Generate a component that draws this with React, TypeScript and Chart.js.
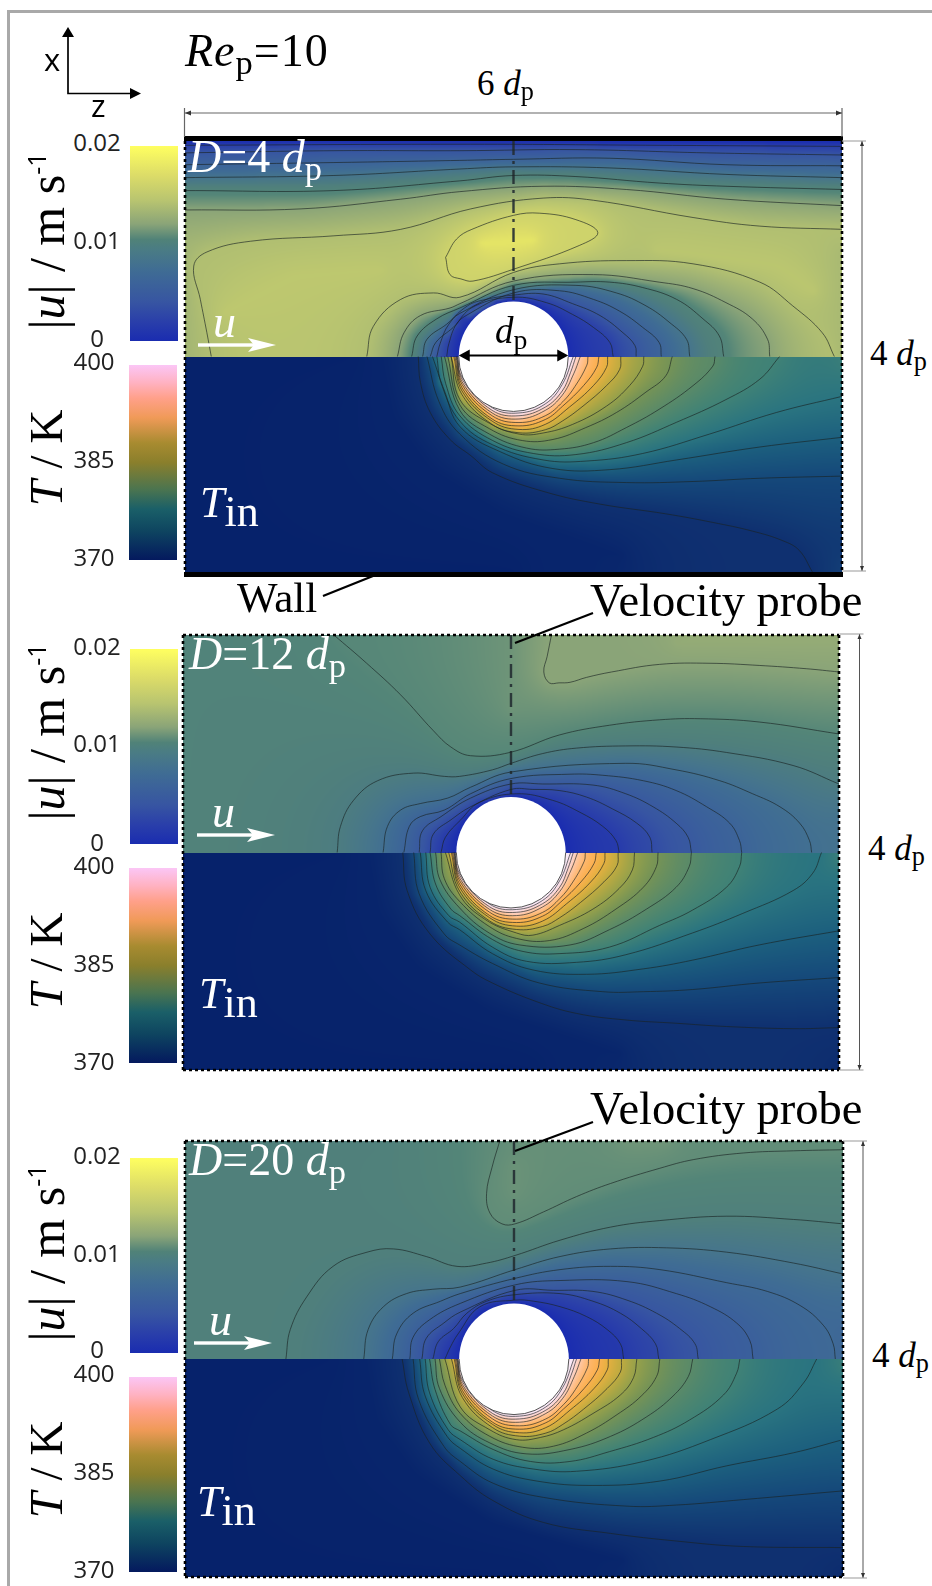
import React, { useEffect, useRef } from "react";
import { Chart, registerables } from "chart.js";
Chart.register(...registerables);

// All contour data. Coordinates: z, x in hundredths of a particle diameter (flat pairs).
const uStops: [number, string][] = [[0, "#1a2cb0"], [0.002, "#2a3faa"], [0.004, "#3755a2"], [0.0072, "#3f6c94"], [0.0081, "#46758c"], [0.0094, "#4f7f7c"], [0.0104, "#538578"], [0.012, "#8aa478"], [0.0144, "#b8c470"], [0.017, "#dcdc68"], [0.02, "#ffff60"]];
const tFieldStops: [number, string][] = [[370, "#05206a"], [371.5, "#0f3070"], [373, "#15487a"], [374.5, "#1c5f7e"], [376, "#2a7480"], [377.5, "#408276"], [379, "#5a8a68"], [380.5, "#759356"], [382, "#97a14a"], [383.5, "#c0ab40"], [385, "#e5b040"], [386.5, "#fbb050"], [388, "#ffb870"], [389.5, "#ffc8a8"], [391, "#fbd6d6"], [392.5, "#f8e4f2"], [394, "#fbeefb"], [400, "#ffffff"]];
const tBarStops: [number, string][] = [[370, "#04195e"], [374.5, "#0e4560"], [377.8, "#1a5f68"], [380.8, "#4a7450"], [385, "#8a7f2c"], [388, "#a88b30"], [391.9, "#f09a58"], [394.9, "#ffa08a"], [397.3, "#ffb2c2"], [400, "#fbc6f6"]];
const uBarStops: [number, string][] = [[0, "#1a2cb0"], [0.002, "#2a3faa"], [0.004, "#3755a2"], [0.0072, "#3f6c94"], [0.0094, "#4a7c84"], [0.0104, "#508278"], [0.012, "#8aa478"], [0.0144, "#b8c470"], [0.017, "#dcdc68"], [0.02, "#ffff60"]];
const uTicks = ["0.02", "0.01", "0"];
const tTicks = ["400", "385", "370"];
const probe = [300, 200, 300, 51];
const particleDiameter = [250, 350];

type L = [number, number[]];

const uLinesD4: L[] = [
  [0.002, [0, 196, 261, 197, 433, 196, 600, 195]],
  [0.004, [0, 189, 136, 191, 251, 191, 357, 192, 476, 189, 600, 187]],
  [0.006, [0, 178, 136, 180, 251, 182, 300, 183, 388, 184, 494, 178, 600, 177]],
  [0.008, [0, 166, 136, 168, 251, 174, 300, 176, 388, 175, 494, 169, 600, 166]],
  [0.01, [0, 154, 136, 154, 251, 163, 300, 168, 357, 167, 433, 161, 494, 158, 600, 155]],
  [0.012, [0, 136, 106, 137, 197, 146, 251, 153, 327, 158, 403, 155, 494, 146, 600, 140]],
  [0.014, [24, 0, 20, 22, 14, 53, 8, 84, 20, 97, 60, 107, 136, 112, 197, 118, 261, 137, 327, 147, 373, 145, 464, 129, 525, 121, 600, 118]],
  [0.016, [238, 92, 248, 109, 262, 118, 300, 131, 324, 133, 357, 127, 377, 115, 360, 103, 300, 81, 263, 70, 252, 72, 242, 76, 238, 92]],
  [0.014, [166, 0, 172, 28, 197, 53, 227, 59, 251, 55, 300, 78, 342, 86, 403, 89, 464, 86, 525, 69, 555, 47, 582, 22, 593, 0]],
  [0.012, [194, 0, 200, 22, 215, 38, 242, 45, 251, 49, 300, 70, 373, 76, 433, 69, 464, 63, 494, 50, 518, 35, 532, 16, 534, 0]],
  [0.01, [207, 0, 212, 19, 230, 35, 251, 45, 300, 66, 357, 69, 388, 69, 418, 64, 449, 53, 473, 35, 488, 19, 492, 0]],
  [0.008, [217, 0, 221, 16, 239, 30, 251, 40, 300, 62, 357, 66, 394, 59, 421, 47, 442, 32, 458, 16, 461, 0]],
  [0.006, [224, 0, 229, 13, 245, 27, 255, 37, 300, 59, 342, 61, 373, 53, 397, 42, 418, 27, 433, 13, 435, 0]],
  [0.004, [230, 0, 233, 12, 241, 30, 258, 47, 275, 53, 300, 57, 327, 58, 354, 49, 379, 38, 400, 22, 411, 10, 412, 0]],
  [0.002, [239, 0, 241, 12, 248, 30, 265, 47, 300, 55, 330, 50, 354, 39, 373, 27, 388, 13, 391, 0]],
];
const uAnchorsD4: L[] = [
  [0, [0, 200, 600, 200]],
  [0.0148, [35, 40, 100, 75, 180, 80]],
  [0.0146, [430, 100, 540, 85, 575, 60]],
  [0.0178, [270, 105, 320, 108]],
  [0.0133, [0, 0, 0, 100]],
  [0.0136, [600, 0, 600, 100]],
];

const uLinesD12: L[] = [
  [0.012, [337, 200, 333, 180, 330, 166, 335, 156, 344, 156, 354, 156.5, 369, 161, 392, 166, 436, 173, 482, 174, 527, 172, 570, 169, 600, 166]],
  [0.0105, [138, 200, 168, 174, 199, 145, 229, 112, 245, 97, 263, 89, 299, 92, 344, 108, 390, 117, 436, 122, 473, 123, 527, 120, 600, 109]],
  [0.009, [141, 0, 144, 24, 156, 48, 178, 66, 211, 73, 239, 70, 253, 70, 283, 76, 300, 82, 329, 91, 360, 96, 405, 98, 451, 97, 497, 92, 558, 80, 600, 63]],
  [0.0075, [183, 0, 187, 24, 199, 39, 217, 45, 242, 50, 263, 60, 300, 74, 405, 82, 451, 76, 491, 66, 521, 54, 546, 42, 564, 27, 573, 11, 575, 0]],
  [0.006, [202, 0, 207, 24, 217, 33, 239, 39, 263, 54, 300, 68, 354, 72, 384, 71, 421, 66, 451, 57, 479, 42, 500, 27, 509, 11, 511, 0]],
  [0.0045, [216, 0, 219, 20, 236, 33, 263, 50, 300, 63, 329, 63, 375, 62, 405, 54, 430, 42, 451, 27, 462, 14, 465, 0]],
  [0.003, [226, 0, 229, 17, 245, 30, 263, 42, 300, 58, 320, 58, 344, 57, 369, 51, 393, 40, 415, 27, 427, 14, 429, 0]],
  [0.0015, [236, 0, 240, 14, 254, 30, 271, 46, 305, 54, 338, 48, 363, 37, 384, 24, 396, 11, 399, 0]],
];
const uAnchorsD12: L[] = [
  [0.01, [0, 0, 0, 200]],
  [0.0125, [450, 192, 600, 192]],
  [0.0078, [600, 0, 600, 30]],
  [0.0112, [300, 130, 300, 200]],
];

const uLinesD20: L[] = [
  [0.0108, [287, 200, 280, 176, 275, 152, 278, 134, 289, 124, 301, 124, 327, 135, 357, 149, 388, 161, 433, 175, 464, 183, 509, 189, 555, 191, 600, 192]],
  [0.0095, [92, 0, 96, 27, 111, 57, 135, 85, 166, 98, 190, 101, 220, 94, 248, 85, 275, 88, 301, 95, 342, 109, 388, 121, 433, 127, 494, 131, 555, 128, 600, 124]],
  [0.0081, [163, 0, 167, 27, 181, 48, 202, 60, 226, 64, 251, 66, 301, 82, 342, 94, 388, 101, 439, 102, 494, 98, 555, 88, 600, 78]],
  [0.00675, [189, 0, 193, 23, 208, 42, 233, 53, 251, 60, 301, 74, 342, 82, 388, 85, 433, 82, 494, 70, 531, 62, 561, 49, 582, 31, 591, 14, 593, 0]],
  [0.0054, [205, 0, 208, 20, 223, 36, 251, 51, 301, 68, 342, 72, 403, 71, 448, 60, 479, 48, 503, 33, 515, 17, 518, 0]],
  [0.00405, [216, 0, 220, 19, 236, 33, 251, 43, 301, 63, 336, 63, 372, 62, 403, 54, 430, 42, 451, 28, 465, 14, 468, 0]],
  [0.0027, [226, 0, 231, 16, 245, 28, 257, 42, 275, 53, 301, 59, 342, 60, 372, 53, 397, 42, 416, 28, 429, 14, 432, 0]],
  [0.00135, [237, 0, 242, 11, 249, 23, 269, 48, 301, 54, 318, 53, 342, 48, 366, 39, 385, 27, 397, 14, 400, 0]],
];
const uAnchorsD20: L[] = [
  [0.0096, [0, 0, 0, 200, 180, 200]],
  [0.0112, [400, 198, 440, 198]],
  [0.0111, [300, 150, 300, 180]],
  [0.0066, [600, 0, 600, 30]],
];

const tLinesNearParticle: L[] = [
  [383.5, [243, 0, 253, -35.5, 280.5, -63, 305, -70.8, 329, -68, 344.5, -60, 363.5, -46, 385, -27, 397, -12, 398, 0]],
  [385, [245.5, 0, 253, -32, 280.5, -60, 305, -67.7, 329, -63, 351, -47, 373, -27, 385, -10, 386, 0]],
  [386.5, [246.5, 0, 253, -29, 280.5, -58, 305, -64.4, 329, -58.5, 345, -46, 364, -27, 376, -10, 378, 0]],
  [388, [247.5, 0, 253, -26, 280.5, -55, 305, -61.3, 329, -55, 345, -42, 356, -28, 367, -8, 368, 0]],
  [389.5, [248, 0, 253, -23.5, 280.5, -52.4, 305, -58, 329, -50, 344.5, -36, 355, -16, 361, 0]],
  [391, [248.5, 0, 253, -21, 280.5, -50, 305, -55, 329, -47, 344.5, -32, 352, -15, 357, 0]],
  [392.5, [249, 0, 253, -19, 280.5, -47.5, 305, -52.4, 329, -44, 344.5, -26, 354.6, 0]],
];

const tLinesD4: L[] = [
  [371.5, [213, 0, 215, -24, 224, -52, 242, -77, 261, -92, 281, -108, 330, -126, 379, -137, 439, -146, 482, -154, 518, -162, 546, -171, 561, -180, 573, -200]],
  [373, [221, 0, 232, -42, 251, -72, 291, -100, 342, -113, 403, -117, 464, -116, 525, -113, 600, -111]],
  [374.5, [226, 0, 237, -32, 251, -65, 287, -88, 336, -104, 388, -105, 449, -96, 525, -84, 600, -75]],
  [376, [230, 0, 234, -25, 251, -60, 281, -82, 327, -96, 367, -97, 418, -90, 479, -72, 540, -52, 600, -37]],
  [377.5, [234, 0, 238, -25, 251, -55, 281, -78, 318, -90, 357, -91, 403, -80, 449, -61, 494, -40, 525, -21, 543, 0]],
  [379, [237, 0, 251, -50, 278, -72, 312, -85, 342, -86, 373, -80, 403, -66, 433, -49, 464, -27, 482, -9, 484, 0]],
  [380.5, [240, 0, 251, -45, 278, -67, 308, -78, 336, -77, 366, -66, 394, -52, 421, -33, 439, -18, 445, 0]],
  [382, [243, 0, 251, -40, 278, -62, 305, -72, 327, -71, 354, -63, 385, -46, 406, -27, 418, -9, 419, 0]],
];
const tLinesD12: L[] = [
  [371.5, [201, 0, 205, -35, 226, -75, 263, -108, 283, -120, 323, -137, 360, -148, 405, -154, 451, -157, 497, -160, 558, -162, 600, -161]],
  [373, [211, 0, 216, -38, 239, -75, 253, -85, 283, -102, 326, -120, 384, -128, 421, -128, 466, -126, 527, -120, 600, -115]],
  [374.5, [217, 0, 222, -35, 242, -64, 253, -71, 283, -93, 320, -108, 369, -112, 421, -107, 466, -99, 527, -85, 600, -72]],
  [376, [222, 0, 226, -32, 243, -58, 253, -64, 283, -87, 314, -100, 360, -101, 405, -94, 466, -74, 512, -56, 558, -35, 576, -19, 584, 0]],
  [377.5, [226, 0, 231, -29, 245, -52, 253, -58, 283, -80, 311, -91, 344, -93, 390, -87, 436, -67, 466, -53, 497, -32, 509, -13, 511, 0]],
  [379, [231, 0, 235, -25, 253, -51, 280, -74, 308, -85, 354, -85, 390, -71, 424, -52, 451, -32, 463, -13, 465, 0]],
  [380.5, [236, 0, 239, -24, 253, -45, 280, -68, 305, -79, 335, -81, 366, -70, 396, -52, 421, -32, 433, -13, 434.5, 0]],
  [382, [240, 0, 253, -39, 277, -62, 305, -74, 320, -76, 344.5, -67, 375, -52, 399, -33, 411, -16, 413, 0]],
];
const tLinesD20: L[] = [
  [371.5, [198, 0, 204, -31, 223, -77, 251, -107, 281, -130, 327, -150, 388, -160, 448, -167, 509, -172, 600, -173]],
  [373, [208, 0, 213, -37, 236, -80, 251, -94, 281, -114, 327, -127, 403, -135, 448, -134, 509, -129, 600, -121]],
  [374.5, [214, 0, 219, -34, 239, -71, 251, -82, 281, -101, 321, -112, 372, -116, 433, -112, 494, -98, 555, -86, 600, -74]],
  [376, [219, 0, 223, -31, 240, -65, 251, -74, 281, -92, 318, -101, 357, -103, 418, -94, 479, -74, 540, -46, 564, -22, 576, 0]],
  [377.5, [223, 0, 228, -28, 242, -60, 251, -66, 281, -83, 315, -94, 351, -94, 387, -85, 427, -72, 460, -56, 491, -33, 503, -13, 506, 0]],
  [379, [228, 0, 232, -27, 251, -58, 278, -77, 311, -87, 351, -83, 388, -71, 421, -53, 445, -34, 459, -16, 463, 0]],
  [380.5, [232, 0, 237, -24, 251, -50, 278, -71, 308, -81, 336, -80, 366, -68, 394, -51, 416, -34, 430, -16, 433, 0]],
  [382, [237, 0, 251, -44, 278, -65, 302, -74, 324, -72, 345, -65, 372, -50, 397, -33, 409, -17, 412, 0]],
];
const tAnchorsD4: L[] = [
  [370.2, [0, 0, 150, 0]],
  [370.2, [0, -200, 0, 0]],
  [370.2, [0, -200, 300, -200]],
  [370.5, [180, 0, 190, -55, 225, -105, 290, -145, 400, -185]],
  [372.3, [600, -200, 600, -190]],
  [377, [600, 0, 600, -10]],
];
const tAnchorsD12: L[] = [
  [370.2, [0, 0, 140, 0]],
  [370.2, [0, -200, 0, 0]],
  [370.2, [0, -200, 320, -200]],
  [370.5, [170, 0, 180, -55, 215, -105, 280, -145, 400, -185]],
  [371, [600, -200, 600, -195]],
  [377, [600, 0, 600, -10]],
];
const tAnchorsD20: L[] = [
  [370.2, [0, 0, 130, 0]],
  [370.2, [0, -200, 0, 0]],
  [370.2, [0, -200, 320, -200]],
  [370.5, [165, 0, 175, -55, 210, -105, 280, -150, 400, -185]],
  [371, [600, -200, 600, -195]],
  [377, [600, 0, 600, -10]],
];

const SPHERE_Z = 50, SPHERE_X = 51;
const arc = (sign: number) => {
  const a: number[] = [];
  for (let i = 0; i <= 36; i++) {
    const t = (Math.PI * i) / 36;
    a.push(300 - SPHERE_Z * Math.cos(t), sign * SPHERE_X * Math.sin(t));
  }
  return a;
};

const hex = (h: string) => [parseInt(h.slice(1, 3), 16), parseInt(h.slice(3, 5), 16), parseInt(h.slice(5, 7), 16)];
function colorAt(stops: [number, string][], v: number) {
  if (v <= stops[0][0]) return hex(stops[0][1]);
  for (let i = 1; i < stops.length; i++) {
    if (v <= stops[i][0]) {
      const f = (v - stops[i - 1][0]) / (stops[i][0] - stops[i - 1][0]);
      const a = hex(stops[i - 1][1]), b = hex(stops[i][1]);
      return [a[0] + (b[0] - a[0]) * f, a[1] + (b[1] - a[1]) * f, a[2] + (b[2] - a[2]) * f];
    }
  }
  return hex(stops[stops.length - 1][1]);
}

// Fills the space between the level lines: every level line stays fixed and the rest relaxes smoothly between them.
function fieldImage(lines: L[], stops: [number, string][], xTop: number, xBot: number) {
  const sizes = [[82, 27], [164, 54], [329, 109], [658, 218]];
  const iters = [400, 150, 60, 30];
  let mean = 0;
  lines.forEach((l) => (mean += l[0] / lines.length));
  let prev: Float32Array | null = null;
  let pc = 0, pr = 0;
  let cols = 0, rows = 0;
  let val = new Float32Array(1);
  sizes.forEach(([c, r], lev) => {
    cols = c; rows = r;
    val = new Float32Array(c * r);
    const fixed = new Uint8Array(c * r);
    if (prev) {
      for (let j = 0; j < r; j++) {
        const pj = Math.min(pr - 1, Math.floor((j / r) * pr));
        for (let i = 0; i < c; i++) val[j * c + i] = prev[pj * pc + Math.min(pc - 1, Math.floor((i / c) * pc))];
      }
    } else val.fill(mean);
    const cz = 600 / c, cx = (xTop - xBot) / r;
    for (const [level, p] of lines) {
      for (let k = 0; k + 3 < p.length; k += 2) {
        const dz = p[k + 2] - p[k], dx = p[k + 3] - p[k + 1];
        const n = Math.max(1, Math.ceil(Math.hypot(dz / cz, dx / cx) * 2));
        for (let s = 0; s <= n; s++) {
          const i = Math.min(c - 1, Math.max(0, Math.floor((p[k] + (dz * s) / n) / cz)));
          const j = Math.min(r - 1, Math.max(0, Math.floor((xTop - (p[k + 1] + (dx * s) / n)) / cx)));
          fixed[j * c + i] = 1;
          val[j * c + i] = level;
        }
      }
    }
    const w = lev < 2 ? 1.85 : 1.6;
    for (let it = 0; it < iters[lev]; it++) {
      for (let j = 0; j < r; j++) {
        const up = j > 0 ? -c : 0, dn = j < r - 1 ? c : 0;
        for (let i = 0; i < c; i++) {
          const o = j * c + i;
          if (fixed[o]) continue;
          const lf = i > 0 ? -1 : 0, rt = i < c - 1 ? 1 : 0;
          const avg = (val[o + lf] + val[o + rt] + val[o + up] + val[o + dn]) / 4;
          val[o] += w * (avg - val[o]);
        }
      }
    }
    prev = val; pc = c; pr = r;
  });
  // soften the creases along the level lines
  for (let pass = 0; pass < 3; pass++) {
    const t = val.slice();
    for (let j = 0; j < rows; j++) {
      for (let i = 0; i < cols; i++) {
        const a = Math.max(0, i - 1), b = Math.min(cols - 1, i + 1), u = Math.max(0, j - 1), d = Math.min(rows - 1, j + 1);
        val[j * cols + i] = (t[u * cols + a] + t[u * cols + i] + t[u * cols + b] + t[j * cols + a] + t[j * cols + i] + t[j * cols + b] + t[d * cols + a] + t[d * cols + i] + t[d * cols + b]) / 9;
      }
    }
  }
  const canvas = document.createElement("canvas");
  canvas.width = cols; canvas.height = rows;
  const g = canvas.getContext("2d")!;
  const img = g.createImageData(cols, rows);
  for (let o = 0; o < cols * rows; o++) {
    const rgb = colorAt(stops, val[o]);
    img.data[o * 4] = rgb[0]; img.data[o * 4 + 1] = rgb[1]; img.data[o * 4 + 2] = rgb[2]; img.data[o * 4 + 3] = 255;
  }
  g.putImageData(img, 0, 0);
  return canvas;
}

const pairs = (a: number[]) => {
  const r: { x: number; y: number }[] = [];
  for (let i = 0; i + 1 < a.length; i += 2) r.push({ x: a[i], y: a[i + 1] });
  return r;
};

type PanelCfg = {
  L: number; T: number; W: number; H: number;
  uLines: L[]; uAnchors: L[]; tLines: L[]; tAnchors: L[]; walls: boolean; arrow: boolean;
};
const PAD = 8;
const panels: PanelCfg[] = [
  { L: 185, T: 141, W: 657, H: 431, uLines: uLinesD4, uAnchors: uAnchorsD4, tLines: [...tLinesD4, ...tLinesNearParticle], tAnchors: tAnchorsD4, walls: true, arrow: true },
  { L: 183, T: 635, W: 656, H: 435, uLines: uLinesD12, uAnchors: uAnchorsD12, tLines: [...tLinesD12, ...tLinesNearParticle], tAnchors: tAnchorsD12, walls: false, arrow: false },
  { L: 185, T: 1141, W: 658, H: 436, uLines: uLinesD20, uAnchors: uAnchorsD20, tLines: [...tLinesD20, ...tLinesNearParticle], tAnchors: tAnchorsD20, walls: false, arrow: false },
];

function Panel({ cfg }: { cfg: PanelCfg }) {
  const ref = useRef<HTMLCanvasElement>(null);
  useEffect(() => {
    const upper = fieldImage([...cfg.uAnchors, ...cfg.uLines, [0, arc(1)]], uStops, 200, 0);
    const lower = fieldImage([...cfg.tAnchors, ...cfg.tLines, [394, arc(-1)]], tFieldStops, 0, -200);
    const plugin = {
      id: "field",
      beforeDatasetsDraw(ch: any) {
        const { ctx, chartArea: a, scales } = ch;
        const mid = scales.y.getPixelForValue(0);
        ctx.save();
        ctx.imageSmoothingEnabled = true;
        ctx.imageSmoothingQuality = "high";
        ctx.drawImage(upper, a.left, a.top, a.width, mid - a.top);
        ctx.drawImage(lower, a.left, mid, a.width, a.bottom - mid);
        ctx.restore();
      },
      afterDatasetsDraw(ch: any) {
        const { ctx, chartArea: a, scales } = ch;
        const cx = scales.x.getPixelForValue(300), cy = scales.y.getPixelForValue(0);
        const rx = scales.x.getPixelForValue(300 + SPHERE_Z) - cx, ry = cy - scales.y.getPixelForValue(SPHERE_X);
        ctx.save();
        ctx.fillStyle = "#fff";
        ctx.beginPath(); ctx.ellipse(cx, cy, rx, ry, 0, 0, Math.PI * 2); ctx.fill();
        ctx.strokeStyle = "#444"; ctx.lineWidth = 0.9;
        ctx.beginPath(); ctx.ellipse(cx, cy, rx, ry, 0, 0, Math.PI); ctx.stroke();
        ctx.strokeStyle = "#000"; ctx.lineWidth = 2.6; ctx.setLineDash([3, 3]);
        ctx.beginPath();
        ctx.moveTo(a.left, a.top); ctx.lineTo(a.left, a.bottom);
        ctx.moveTo(a.right, a.top); ctx.lineTo(a.right, a.bottom);
        if (!cfg.walls) {
          ctx.moveTo(a.left, a.top); ctx.lineTo(a.right, a.top);
          ctx.moveTo(a.left, a.bottom); ctx.lineTo(a.right, a.bottom);
        }
        ctx.stroke();
        ctx.setLineDash([]);
        if (cfg.walls) {
          ctx.fillStyle = "#000";
          ctx.fillRect(a.left - 1, a.top - 5, a.width + 2, 5);
          ctx.fillRect(a.left - 1, a.bottom, a.width + 2, 5);
        }
        if (cfg.arrow) {
          const x0 = scales.x.getPixelForValue(particleDiameter[0]), x1 = scales.x.getPixelForValue(particleDiameter[1]);
          ctx.strokeStyle = "#000"; ctx.fillStyle = "#000"; ctx.lineWidth = 2;
          ctx.beginPath(); ctx.moveTo(x0 + 6, cy - 1); ctx.lineTo(x1 - 6, cy - 1); ctx.stroke();
          for (const [tip, d] of [[x0, 1], [x1, -1]]) {
            ctx.beginPath(); ctx.moveTo(tip, cy - 1); ctx.lineTo(tip + d * 11, cy - 7); ctx.lineTo(tip + d * 11, cy + 5); ctx.closePath(); ctx.fill();
          }
        }
        ctx.restore();
      },
    };
    const lineDs = (l: L) => ({
      data: pairs(l[1]), showLine: true, pointRadius: 0, borderColor: "rgba(25,35,35,0.85)", borderWidth: 0.75, tension: 0.4, fill: false,
    });
    const chart = new Chart(ref.current!, {
      type: "scatter",
      data: {
        datasets: [
          ...cfg.uLines.map(lineDs),
          ...cfg.tLines.map(lineDs),
          { data: pairs(probe), showLine: true, pointRadius: 0, borderColor: "rgba(35,45,50,0.9)", borderWidth: 2.4, borderDash: [14, 6, 3, 6], tension: 0, fill: false },
        ],
      },
      options: {
        animation: false, responsive: false,
        layout: { padding: PAD },
        scales: { x: { type: "linear", min: 0, max: 600, display: false }, y: { type: "linear", min: -200, max: 200, display: false } },
        plugins: { legend: { display: false }, tooltip: { enabled: false } },
      } as any,
      plugins: [plugin as any],
    });
    return () => chart.destroy();
  }, [cfg]);
  return <canvas ref={ref} width={cfg.W + PAD * 2} height={cfg.H + PAD * 2} style={{ position: "absolute", left: cfg.L - PAD, top: cfg.T - PAD, width: cfg.W + PAD * 2, height: cfg.H + PAD * 2 }} />;
}

const SERIF = "'Liberation Serif', serif";
const SANS = "'Open Sans', sans-serif";
function Txt({ x, y, size, color = "#000", font = SERIF, spacing = 0, children }: any) {
  return <div style={{ position: "absolute", left: x, top: y - size * 0.8375, fontSize: size, lineHeight: 1, color, fontFamily: font, whiteSpace: "nowrap", letterSpacing: spacing }}>{children}</div>;
}
const Sub = ({ children }: any) => <span style={{ fontSize: "0.75em", position: "relative", top: "0.22em", fontStyle: "normal" }}>{children}</span>;
function Rot({ cx, cy, size, children }: any) {
  return <div style={{ position: "absolute", left: cx, top: cy, transform: "translate(-50%,-50%) rotate(-90deg)", fontSize: size, lineHeight: 1, fontFamily: SERIF, whiteSpace: "nowrap", color: "#000" }}>{children}</div>;
}
function Tick({ x, cy, children }: any) {
  return <div style={{ position: "absolute", left: x, top: cy - 12, width: 48, fontSize: 24, lineHeight: "24px", textAlign: "center", fontFamily: SANS, color: "#222" }}>{children}</div>;
}
const grad = (stops: [number, string][]) => {
  const a = stops[0][0], b = stops[stops.length - 1][0];
  return `linear-gradient(to top, ${stops.map(([v, c]) => `${c} ${((v - a) / (b - a)) * 100}%`).join(", ")})`;
};

const barRows = [
  { u: [146, 341], t: [364.5, 560], ut: [142, 240, 338], tt: [361, 459, 557], ul: 241, tl: 458 },
  { u: [649, 844], t: [868, 1063], ut: [646, 743, 842], tt: [865, 963, 1061], ul: 732, tl: 961 },
  { u: [1158, 1353], t: [1377, 1572], ut: [1155, 1253, 1349], tt: [1373, 1471, 1569], ul: 1253, tl: 1470 },
];
const labels = [
  { D: "D=4 ", dx: 188, dy: 173, ux: 213, uy: 338, ax: 198, ay: 345, tx: 200, ty: 518 },
  { D: "D=12 ", dx: 189, dy: 670, ux: 212, uy: 828, ax: 197, ay: 835, tx: 199, ty: 1009 },
  { D: "D=20 ", dx: 189, dy: 1176, ux: 209, uy: 1336, ax: 194, ay: 1343, tx: 197, ty: 1517 },
];

function WhiteArrow({ x, y }: { x: number; y: number }) {
  return <g fill="#fff"><rect x={x} y={y - 1.7} width={56} height={3.4} /><polygon points={`${x + 50},${y - 7} ${x + 78},${y} ${x + 50},${y + 7} ${x + 56},${y}`} /></g>;
}
function Dim({ x, y0, y1 }: { x: number; y0: number; y1: number }) {
  return <g stroke="#555" strokeWidth={1} fill="#333">
    <line x1={x} x2={x} y1={y0} y2={y1} />
    <line x1={x - 20} x2={x + 4} y1={y0} y2={y0} stroke="#aaa" strokeWidth={1.2} />
    <line x1={x - 20} x2={x + 4} y1={y1} y2={y1} stroke="#aaa" strokeWidth={1.2} />
    <polygon points={`${x},${y0} ${x - 2},${y0 + 5} ${x + 2},${y0 + 5}`} stroke="none" />
    <polygon points={`${x},${y1} ${x - 2},${y1 - 5} ${x + 2},${y1 - 5}`} stroke="none" />
  </g>;
}

export default function App() {
  return (
    <div style={{ position: "absolute", left: 0, top: 0, width: 932, height: 1586, overflow: "hidden", background: "#fff" }}>
      <div style={{ position: "absolute", left: 7, top: 10, width: 925, height: 2.5, background: "#a9a9a9" }} />
      <div style={{ position: "absolute", left: 7, top: 10, width: 2.5, height: 1576, background: "#a9a9a9" }} />
      {panels.map((p, i) => <Panel key={i} cfg={p} />)}
      {barRows.map((r, i) => (
        <React.Fragment key={i}>
          <div style={{ position: "absolute", left: 130, top: r.u[0], width: 47.5, height: r.u[1] - r.u[0], background: grad(uBarStops) }} />
          <div style={{ position: "absolute", left: 129, top: r.t[0], width: 47.5, height: r.t[1] - r.t[0], background: grad(tBarStops) }} />
          {uTicks.map((t, k) => <Tick key={t} x={73} cy={r.ut[k]}>{t}</Tick>)}
          {tTicks.map((t, k) => <Tick key={t} x={70} cy={r.tt[k]}>{t}</Tick>)}
          <Rot cx={47} cy={r.ul} size={50}>|<i>u</i>| / m s<sup style={{ fontSize: "0.5em", fontFamily: SANS, lineHeight: 0 }}>-1</sup></Rot>
          <Rot cx={46} cy={r.tl} size={47}><i>T</i> / K</Rot>
        </React.Fragment>
      ))}
      {labels.map((l, i) => (
        <React.Fragment key={i}>
          <Txt x={l.dx} y={l.dy} size={46} color="#fff"><i>D</i>={l.D.slice(2)}<i>d</i><Sub>p</Sub></Txt>
          <Txt x={l.ux} y={l.uy} size={46} color="#fff"><i>u</i></Txt>
          <Txt x={l.tx} y={l.ty} size={44} color="#fff"><i>T</i><span style={{ position: "relative", top: 9 }}>in</span></Txt>
        </React.Fragment>
      ))}
      <Txt x={185} y={67} size={46} spacing={1}><i>Re</i><Sub>p</Sub>=10</Txt>
      <Txt x={477} y={95} size={35}>6 <i>d</i><Sub>p</Sub></Txt>
      <Txt x={495} y={343} size={37}><i>d</i><Sub>p</Sub></Txt>
      <Txt x={237} y={612} size={43}>Wall</Txt>
      <Txt x={590} y={617} size={46.5}>Velocity probe</Txt>
      <Txt x={590} y={1125} size={46.5}>Velocity probe</Txt>
      <Txt x={870} y={365} size={35}>4 <i>d</i><Sub>p</Sub></Txt>
      <Txt x={868} y={860} size={35}>4 <i>d</i><Sub>p</Sub></Txt>
      <Txt x={872} y={1367} size={35}>4 <i>d</i><Sub>p</Sub></Txt>
      <Txt x={44} y={70} size={31} font={SANS}>x</Txt>
      <Txt x={91} y={116} size={31} font={SANS}>z</Txt>
      <svg width={932} height={1586} style={{ position: "absolute", left: 0, top: 0, pointerEvents: "none" }}>
        <g stroke="#000" strokeWidth={1.7} fill="none"><path d="M68 36 V93.5 H132" /></g>
        <polygon points="68,27 62,37 74,37" fill="#000" />
        <polygon points="141,93.5 130,88 130,99" fill="#000" />
        <g stroke="#666" strokeWidth={1.2}><line x1={184.5} x2={842} y1={113} y2={113} /><line x1={184.5} x2={184.5} y1={108} y2={137} /><line x1={842} x2={842} y1={108} y2={137} /></g>
        <polygon points="185,113 191,110.5 191,115.5" fill="#333" /><polygon points="842,113 836,110.5 836,115.5" fill="#333" />
        <Dim x={862} y0={141} y1={571} />
        <Dim x={859.5} y0={634} y1={1070} />
        <Dim x={863} y0={1141} y1={1578} />
        {labels.map((l, i) => <WhiteArrow key={i} x={l.ax} y={l.ay} />)}
        <g stroke="#000" strokeWidth={2.2}>
          <line x1={323} y1={596} x2={373} y2={576} />
          <line x1={593} y1={613} x2={515} y2={643} />
          <line x1={593} y1={1122} x2={515} y2={1151} />
        </g>
      </svg>
    </div>
  );
}
